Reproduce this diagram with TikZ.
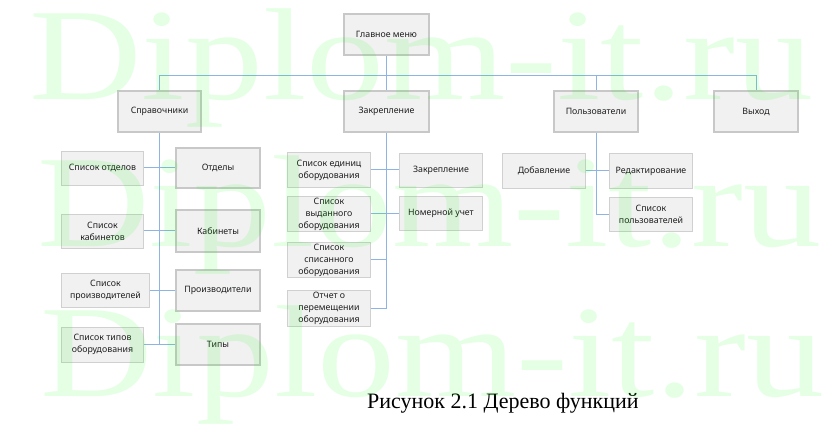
\documentclass[tikz,border=0pt]{standalone}
\usepackage{fontspec}
\setmainfont{Noto Sans}
\newfontfamily\serifcap{Liberation Serif}
\definecolor{boxfill}{RGB}{241,241,241}
\definecolor{thickborder}{RGB}{200,200,200}
\definecolor{thinborder}{RGB}{208,208,208}
\definecolor{linecol}{RGB}{141,180,226}
\definecolor{wmgreen}{RGB}{0,255,0}
\definecolor{boxtext}{RGB}{30,30,30}
\tikzset{
  box/.style={rectangle, fill=boxfill, draw=thinborder, line width=0.8pt,
    align=center, text=boxtext, inner sep=0pt,
    font=\fontsize{8.8}{12}\selectfont},
  thickbox/.style={box, draw=thickborder, line width=2pt},
  conn/.style={draw=linecol, line width=1pt},
  wm/.style={anchor=base west, inner sep=0pt, text=wmgreen, text opacity=0.1,
    font=\serifcap\fontsize{131}{131}\selectfont, xscale=1.19},
  caption/.style={anchor=base west, inner sep=0pt, text=black,
    font=\serifcap\fontsize{22}{26}\selectfont}
}
\begin{document}
\begin{tikzpicture}[x=1pt,y=-1pt]
\useasboundingbox (0,0) rectangle (836,430);
\fill[white] (0,0) rectangle (836,430);

% top level
\node[thickbox, minimum width=85pt, minimum height=41pt] (main) at (386.5,34.5) {Главное меню};
\node[thickbox, minimum width=83pt, minimum height=41pt] (sprav) at (159.5,111.5) {Справочники};
\node[thickbox, minimum width=85pt, minimum height=41pt] (zakr) at (386.5,111.5) {Закрепление};
\node[thickbox, minimum width=84pt, minimum height=41pt] (polz) at (596,111.5) {Пользователи};
\node[thickbox, minimum width=84pt, minimum height=41pt] (exit) at (756,111.5) {Выход};

% Справочники children
\node[box, minimum width=82pt, minimum height=34pt] (L1) at (102.5,168) {Список отделов};
\node[thickbox, minimum width=84pt, minimum height=40pt] (R1) at (218,168) {Отделы};
\node[box, minimum width=82pt, minimum height=34pt] (L2) at (102.5,231) {Список\\кабинетов};
\node[thickbox, minimum width=84pt, minimum height=42pt] (R2) at (218,231) {Кабинеты};
\node[box, minimum width=88pt, minimum height=34pt] (L3) at (105.5,290.5) {Список\\производителей};
\node[thickbox, minimum width=84pt, minimum height=41pt] (R3) at (218,290.5) {Производители};
\node[box, minimum width=82pt, minimum height=35pt] (L4) at (102.5,344.5) {Список типов\\оборудования};
\node[thickbox, minimum width=84pt, minimum height=41pt] (R4) at (218,344.5) {Типы};

% Закрепление children
\node[box, minimum width=83pt, minimum height=35pt] (A1) at (329,170) {Список единиц\\оборудования};
\node[box, minimum width=83pt, minimum height=34pt] (B1) at (441,170) {Закрепление};
\node[box, minimum width=83pt, minimum height=35pt] (A2) at (329,214) {Список\\выданного\\оборудования};
\node[box, minimum width=83pt, minimum height=34pt] (B2) at (441,213) {Номерной учет};
\node[box, minimum width=83pt, minimum height=35pt] (A3) at (329,260) {Список\\списанного\\оборудования};
\node[box, minimum width=83pt, minimum height=36pt] (A4) at (329,308.5) {Отчет о\\перемещении\\оборудования};

% Пользователи children
\node[box, minimum width=83pt, minimum height=35pt] (C1) at (544,171) {Добавление};
\node[box, minimum width=83pt, minimum height=35pt] (D1) at (651,171) {Редактирование};
\node[box, minimum width=83pt, minimum height=34pt] (D2) at (651,214.5) {Список\\пользователей};

% connectors
\coordinate (bary) at (0,76);
\draw[conn] (main.south) -- (zakr.north);
\draw[conn] (sprav.north) |- (exit.north |- bary) -- (exit.north);
\draw[conn] (polz.north) -- (polz.north |- bary);

\draw[conn] (sprav.south) -- (sprav.south |- L4.east);
\draw[conn] (L1) -- (R1);
\draw[conn] (L2) -- (R2);
\draw[conn] (L3) -- (R3);
\draw[conn] (L4) -- (R4);

\draw[conn] (zakr.south) -- (zakr.south |- A4.east);
\draw[conn] (A1) -- (B1);
\draw[conn] (A2.east) -- (A2.east -| B2.west);
\draw[conn] (A3.east) -- (A3.east -| zakr.south);
\draw[conn] (A4.east) -- (A4.east -| zakr.south);

\draw[conn] (polz.south) |- (D2.west);
\draw[conn] (C1) -- (D1);

% caption
\node[caption] (cap) at (367,409) {Рисунок 2.1 Дерево функций};

% watermark
\node[wm] (w1) at (29,100) {Diplom-it.ru};
\node[wm] (w2) at (37,247) {Diplom-it.ru};
\node[wm] (w3) at (40,397) {Diplom-it.ru};
\end{tikzpicture}
\end{document}
